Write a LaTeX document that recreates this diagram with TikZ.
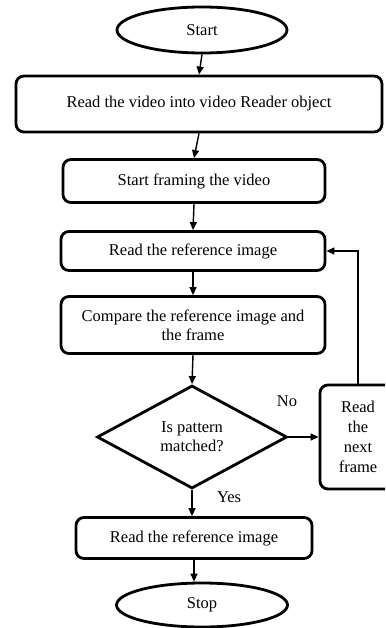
\documentclass[tikz,border=0pt]{standalone}
\usepackage{fontspec}
\setmainfont{Liberation Serif}
\usetikzlibrary{shapes.geometric,arrows.meta}
\begin{document}
\begin{tikzpicture}[x=1pt,y=-1pt,
  font=\fontsize{16.5}{19}\selectfont,
  box/.style={draw,line width=2.8pt,rounded corners=8pt,inner sep=0pt,align=center},
  term/.style={draw,ellipse,line width=2.8pt,inner sep=0pt},
  dec/.style={draw,diamond,line width=2.8pt,inner sep=0pt,align=center,aspect=1.84},
  arr/.style={line width=1.4pt,-{Triangle[length=8pt,width=7pt]}},
  lbl/.style={inner sep=0pt}]
\useasboundingbox (0,0) rectangle (385,628);
\clip (0,0) rectangle (385,628);
\node[term,minimum width=170pt,minimum height=46pt] (start) at (202,30) {Start};
\node[box,minimum width=366pt,minimum height=56pt] (b1) at (199,104) {Read the video into video Reader object};
\node[box,minimum width=262pt,minimum height=43pt] (b2) at (194,181) {Start framing the video};
\node[box,minimum width=264pt,minimum height=39pt] (b3) at (193,251) {Read the reference image};
\node[box,minimum width=264pt,minimum height=57pt] (b4) at (193,325) {Compare the reference image and\\the frame};
\node[dec,minimum width=190pt,minimum height=103pt] (d) at (192,437) {Is pattern\\matched?};
\node[box,minimum width=76pt,minimum height=104pt,font=\fontsize{16.5}{20}\selectfont] (side) at (358,437) {Read\\the\\next\\frame};
\node[box,minimum width=236pt,minimum height=41pt] (b5) at (194,538) {Read the reference image};
\node[term,minimum width=171pt,minimum height=44pt] (stop) at (202,605) {Stop};
\node[lbl] (no) at (287,401) {No};
\node[lbl] (yes) at (229,497) {Yes};
\draw[arr] (start.south) -- (b1.north);
\draw[arr] (b1.south) -- (b2.north);
\draw[arr] (b2.south) -- (b3.north);
\draw[arr] (b3.south) -- (b4.north);
\draw[arr] (b4.south) -- (d.north);
\draw[arr] (d.east) -- (side.west);
\draw[arr] (side.north) |- (b3.east);
\draw[arr] (d.south) -- (d.south |- b5.north);
\draw[arr] (b5.south) -- (b5.south |- stop.north);
\end{tikzpicture}
\end{document}
